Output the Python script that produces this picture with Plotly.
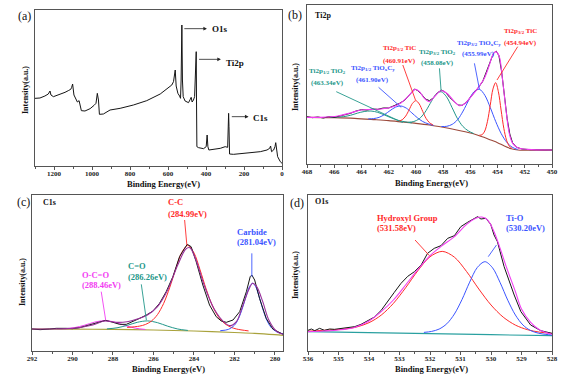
import plotly.graph_objects as go

FONT = "Liberation Serif"
AX = "#555555"
RED = "#ff2a2a"
BLUE = "#3b55ff"
TEAL = "#22978a"
MAG = "#f23cf2"
PURPLE = "#98309a"
BLACK = "#151515"

# ---------------- (a) survey spectrum ----------------
SURVEY_BE = [1300, 1274, 1248, 1230, 1221, 1216, 1203, 1177, 1142, 1125,
             1112, 1107, 1102, 1095, 1084, 1077, 1068, 1063, 1056, 1037,
             1010, 989, 979, 972, 966, 961, 940, 905, 852, 782,
             712, 641, 606, 580, 571, 566, 562, 557, 548, 539,
             534, 531, 527, 524, 520, 510, 492, 483, 478, 473,
             466, 460, 457, 453, 451.5, 450, 448, 439, 413, 399,
             394, 390, 385, 325, 299, 286, 283, 281, 279, 276,
             255, 185, 114, 79, 65, 60, 55, 44, 37, 33,
             30, 23, 9, 0]
SURVEY_I = [205, 206, 212, 218, 227, 215, 210, 215, 223, 228,
            232, 238, 248, 215, 200, 194, 198, 182, 168, 167,
            174, 184, 190, 220, 200, 157, 158, 170, 175, 185,
            198, 218, 232, 245, 255, 275, 290, 242, 220, 212,
            205, 260, 425, 260, 210, 197, 192, 202, 208, 194,
            200, 210, 275, 340, 345, 200, 60, 57, 54, 60,
            95, 60, 50, 55, 60, 58, 120, 160, 120, 38,
            37, 42, 45, 50, 55, 62, 45, 50, 60, 72,
            55, 30, 15, 10]

# ---------------- (b) Ti2p ----------------
DATA_B_X = [468.0, 467.6, 467.2, 466.8, 466.4, 466.0, 465.6, 465.2, 464.8, 464.4,
            464.0, 463.6, 463.2, 462.8, 462.4, 462.0, 461.6, 461.2, 460.8, 460.4,
            460.1, 459.9, 459.6, 459.3, 459.0, 458.7, 458.4, 458.1, 457.8, 457.5,
            457.2, 456.9, 456.6, 456.3, 456.0, 455.7, 455.4, 455.1, 454.8, 454.5,
            454.3, 454.1, 453.9, 453.7, 453.5, 453.3, 453.1, 452.9, 452.6, 452.2,
            451.6, 451.0, 450.5, 450.0]
DATA_B_Y = [150, 147, 149, 146, 150, 148, 152, 156, 160, 167,
            171, 170, 173, 172, 176, 176, 183, 190, 200, 218,
            233, 229, 218, 203, 198, 207, 222, 230, 222, 207,
            195, 185, 184, 193, 208, 222, 238, 255, 285, 318,
            340, 347, 333, 285, 215, 145, 98, 72, 58, 53,
            51, 50, 51, 50]
ENV_B_X = [468, 466.95, 465.73, 464.75, 464.01, 463.28, 462.55, 461.81, 461.08, 460.59,
           460.03, 459.74, 459.37, 459.0, 458.64, 458.15, 457.66, 457.17, 456.8, 456.44,
           455.95, 455.46, 454.97, 454.6, 454.36, 454.12, 453.87, 453.63, 453.38, 453.14,
           452.89, 452.52, 451.79, 450.0]
ENV_B_Y = [148, 148, 152, 162, 170, 172, 173, 178, 192, 210,
           232, 225, 205, 195, 210, 228, 218, 195, 183, 188,
           210, 235, 265, 305, 335, 345, 330, 260, 170, 100,
           70, 57, 52, 50]
BG_B_X = [468, 466, 464.5, 463, 462, 461, 460, 459, 458, 457, 456, 455.5, 455, 454.5, 454, 453.5, 453, 452.5, 450]
BG_B_Y = [148, 147, 145, 141, 138, 134, 130, 125, 118, 110, 101, 95, 88, 80, 72, 62, 54, 50, 50]
TIO2_12_X = [466.3, 465.8, 465.3, 464.8, 464.3, 463.8, 463.3, 462.8, 462.3, 461.8, 461.3, 460.8, 460.3]
TIO2_12_Y = [147.5, 148.6, 150.2, 154.2, 160.5, 165.4, 167.0, 162.9, 155.0, 146.2, 139.0, 134.6, 131.5]
TIOC_12_X = [463.5, 463.1, 462.7, 462.3, 461.9, 461.5, 461.1, 460.7, 460.3, 459.9, 459.5, 459.1, 458.7]
TIOC_12_Y = [143.4, 144.3, 148.0, 156.5, 168.1, 178.5, 182.0, 175.5, 161.5, 147.0, 135.5, 128.5, 123.9]
TIC_12_X = [461.25, 461.0, 460.75, 460.5, 460.25, 460.0, 459.75, 459.5, 459.25, 459.0, 458.75]
TIC_12_Y = [136.9, 140.9, 151.7, 170.4, 190.0, 198.0, 188.0, 165.9, 144.7, 131.9, 125.4]
TIO2_32_X = [460.55, 460.15, 459.75, 459.35, 458.95, 458.55, 458.15, 457.75, 457.35, 456.95, 456.55, 456.15, 455.75]
TIO2_32_Y = [133.3, 135.4, 143.8, 162.1, 189.4, 215.7, 225.0, 209.7, 177.9, 144.6, 120.8, 107.4, 99.3]
TIOC_32_X = [458.13, 457.73, 457.33, 456.93, 456.53, 456.13, 455.73, 455.33, 454.93, 454.53, 454.13, 453.73, 453.33, 452.93, 452.53]
TIOC_32_Y = [120.5, 121.1, 127.0, 141.1, 166.9, 198.3, 224.8, 232.0, 213.8, 176.8, 134.9, 99.1, 73.5, 58.6, 51.5]
TIC_32_X = [455.34, 455.14, 454.94, 454.74, 454.54, 454.34, 454.14, 453.94, 453.74, 453.54, 453.34, 453.14, 452.94]
TIC_32_Y = [94.3, 95.8, 106.9, 136.0, 183.9, 232.7, 252.0, 225.2, 169.9, 115.0, 79.4, 61.8, 54.8]

# ---------------- (c) C1s ----------------
DATA_C_X = [292.0, 291.6, 291.13, 290.8, 290.3, 290.0, 289.65, 289.15, 288.66, 288.36,
            288.0, 287.67, 287.34, 287.01, 286.68, 286.35, 286.02, 285.7, 285.37, 285.04,
            284.71, 284.46, 284.33, 284.14, 283.89, 283.56, 283.23, 282.9, 282.65, 282.4,
            282.07, 281.74, 281.41, 281.22, 281.14, 281.0, 280.76, 280.43, 280.1, 279.6]
DATA_C_Y = [68, 66, 68, 70, 70, 69, 72, 80, 90, 94,
            88, 82, 82, 90, 100, 110, 122, 145, 180, 225,
            285, 310, 322, 315, 270, 200, 140, 105, 92, 88,
            95, 120, 180, 225, 230, 215, 160, 100, 68, 52]
ENV_C_X = [292, 290, 289, 288.4, 287.8, 287.3, 286.8, 286.3, 285.8, 285.3,
           284.8, 284.4, 284.2, 283.9, 283.5, 283.0, 282.5, 282.2, 281.9, 281.6,
           281.3, 281.1, 280.9, 280.6, 280.3, 279.9, 279.6]
ENV_C_Y = [68, 70, 80, 92, 88, 90, 98, 110, 135, 185,
           260, 308, 312, 275, 200, 128, 88, 78, 90, 135,
           185, 205, 195, 150, 95, 60, 52]
BG_C_X = [292, 290, 288, 286, 284, 282, 281, 280, 279.6]
BG_C_Y = [68, 67.5, 67, 65, 62, 57.5, 55, 51, 49]
OCO_X = [290.4, 289.9, 289.4, 288.9, 288.4, 287.9, 287.4, 286.9, 286.4]
OCO_Y = [68.8, 72.1, 79.4, 88.7, 93.1, 88.4, 78.5, 70.5, 66.6]
CO_X = [288.3, 287.8, 287.3, 286.8, 286.3, 285.8, 285.3, 284.8, 284.3]
CO_Y = [68.3, 71.6, 78.8, 88.1, 92.3, 87.0, 76.5, 68.0, 63.7]
CC_X = [287.3, 286.7, 286.4, 286.1, 285.8, 285.5, 285.2, 284.9, 284.6, 284.3,
        284.0, 283.7, 283.4, 283.1, 282.8, 282.5, 282.2, 281.9, 281.3]
CC_Y = [72.7, 76.5, 81.5, 91.7, 111.3, 144.2, 191.8, 248.2, 297.9, 318.5,
        296.6, 245.8, 188.4, 139.6, 105.6, 85.1, 74.1, 68.0, 62.2]
CARB_X = [282.7, 282.3, 282.0, 281.8, 281.6, 281.4, 281.25, 281.1, 280.95, 280.8, 280.6, 280.4, 280.2, 279.9, 279.6]
CARB_Y = [62.9, 66.8, 79.3, 99.0, 131.5, 171.0, 195.6, 205.2, 194.8, 169.2, 128.5, 94.6, 73.6, 59.1, 53.6]

# ---------------- (d) O1s ----------------
DATA_D_X = [536.0, 535.89, 535.78, 535.62, 535.46, 535.29, 535.13, 534.91, 534.69, 534.47,
            534.26, 534.04, 533.82, 533.6, 533.38, 533.17, 532.95, 532.73, 532.51, 532.29,
            532.08, 531.86, 531.64, 531.42, 531.2, 530.99, 530.77, 530.55, 530.44, 530.33,
            530.17, 530.01, 529.9, 529.79, 529.57, 529.24, 529.02, 528.7, 528.37, 528.0]
DATA_D_Y = [64, 68, 63, 70, 64, 68, 67, 70, 72, 75,
            82, 93, 104, 124, 150, 178, 205, 226, 240, 260,
            295, 310, 318, 340, 348, 375, 388, 400, 405, 398,
            400, 382, 350, 330, 255, 170, 120, 80, 63, 55]
ENV_D_X = [536.0, 535.5, 535.0, 534.5, 534.0, 533.6, 533.2, 532.8, 532.4, 532.0,
           531.6, 531.2, 530.8, 530.5, 530.3, 530.1, 529.9, 529.7, 529.5, 529.2,
           529.0, 528.7, 528.4, 528.0]
ENV_D_Y = [60, 62, 65, 72, 92, 120, 155, 200, 246, 288,
           318, 345, 382, 400, 404, 394, 360, 310, 255, 180,
           128, 88, 65, 52]
BG_D_X = [536, 534, 532, 530, 528]
BG_D_Y = [60, 57, 54, 51, 48]
OH_X = [536.0, 535.2, 534.8, 534.4, 534.0, 533.6, 533.2, 532.8, 532.4, 532.0, 531.6,
        531.2, 530.8, 530.4, 530.0, 529.6, 529.2, 528.8, 528.4, 528.0]
OH_Y = [61.5, 65.5, 68.1, 74.2, 86.9, 109.6, 144.9, 191.6, 242.7, 284.7, 300.9,
        283.5, 240.3, 188.0, 140.1, 103.6, 79.7, 65.8, 58.5, 54.7]
TIO_X = [532.2, 531.95, 531.7, 531.45, 531.2, 530.95, 530.7, 530.45, 530.2,
         529.95, 529.7, 529.45, 529.2, 528.95, 528.7, 528.45, 528.2, 528.0]
TIO_Y = [57.8, 60.7, 67.8, 83.6, 112.9, 156.5, 208.5, 252.5, 270.0,
         251.7, 207.0, 154.3, 109.9, 79.8, 63.3, 55.5, 51.8, 50.0]

W, H = 576, 377
fig = go.Figure()


def add_line(x, y, color, n, width=1.0, shape="spline"):
    fig.add_trace(go.Scatter(
        x=x, y=y, mode="lines",
        line=dict(color=color, width=width, shape=shape, smoothing=0.9),
        xaxis="x" if n == 1 else f"x{n}", yaxis="y" if n == 1 else f"y{n}",
        showlegend=False, hoverinfo="skip"))


# (a)
add_line(SURVEY_BE, SURVEY_I, BLACK, 1, 1.0, "linear")
# (b)
add_line(BG_B_X, BG_B_Y, "#9c4a3c", 2, 1.1)
add_line(TIO2_12_X, TIO2_12_Y, TEAL, 2)
add_line(TIOC_12_X, TIOC_12_Y, BLUE, 2)
add_line(TIC_12_X, TIC_12_Y, RED, 2)
add_line(TIO2_32_X, TIO2_32_Y, TEAL, 2)
add_line(TIOC_32_X, TIOC_32_Y, BLUE, 2)
add_line(TIC_32_X, TIC_32_Y, RED, 2)
add_line(DATA_B_X, DATA_B_Y, BLACK, 2, 1.0, "linear")
add_line(ENV_B_X, ENV_B_Y, MAG, 2, 1.1)
# (c)
add_line(BG_C_X, BG_C_Y, "#a9a23c", 3, 1.1)
add_line(OCO_X, OCO_Y, MAG, 3)
add_line(CO_X, CO_Y, TEAL, 3)
add_line(CC_X, CC_Y, RED, 3)
add_line(CARB_X, CARB_Y, BLUE, 3)
add_line(DATA_C_X, DATA_C_Y, BLACK, 3, 1.0, "linear")
add_line(ENV_C_X, ENV_C_Y, PURPLE, 3, 1.1)
# (d)
add_line(BG_D_X, BG_D_Y, "#2aa0a0", 4, 1.1)
add_line(OH_X, OH_Y, RED, 4)
add_line(TIO_X, TIO_Y, BLUE, 4)
add_line(DATA_D_X, DATA_D_Y, BLACK, 4, 1.0, "linear")
add_line(ENV_D_X, ENV_D_Y, MAG, 4, 1.1)


def xaxis(domain, rng, dtick, minor, anchor):
    return dict(domain=domain, range=rng, dtick=dtick, tick0=0, anchor=anchor,
                automargin=False,
                showline=True, mirror=True, linecolor=AX, linewidth=1,
                ticks="outside", ticklen=3, tickwidth=1, tickcolor=AX,
                ticklabelstandoff=-2,
                minor=dict(ticks="outside", ticklen=2, dtick=minor, tickcolor=AX),
                showgrid=False, zeroline=False,
                tickfont=dict(family=FONT, size=7, color="#222", weight="bold"))


def yaxis(domain, rng, anchor):
    return dict(domain=domain, range=rng, anchor=anchor, automargin=False,
                showline=True, mirror=True, linecolor=AX, linewidth=1,
                ticks="", showticklabels=False, showgrid=False, zeroline=False)


# plot boxes in window pixels: (left, right, top, bottom)
BOX = {1: (35, 282, 10, 165.5), 2: (307, 552, 5, 164),
       3: (32, 283, 195, 351), 4: (308, 552, 195, 351)}


def dom(n):
    l, r, t, b = BOX[n]
    return [l / W, r / W], [1 - b / H, 1 - t / H]


fig.update_layout(
    width=W, height=H,
    margin=dict(l=0, r=0, t=0, b=0),
    paper_bgcolor="white", plot_bgcolor="white",
    hovermode=False,
    xaxis=xaxis(dom(1)[0], [1300, 0], 200, 100, "y"),
    yaxis=yaxis(dom(1)[1], [3.5, 470], "x"),
    xaxis2=xaxis(dom(2)[0], [468, 450], 2, 1, "y2"),
    yaxis2=yaxis(dom(2)[1], [8, 485], "x2"),
    xaxis3=xaxis(dom(3)[0], [292, 279.6], 2, 1, "y3"),
    yaxis3=yaxis(dom(3)[1], [2, 470], "x3"),
    xaxis4=xaxis(dom(4)[0], [536, 528], 1, 0.5, "y4"),
    yaxis4=yaxis(dom(4)[1], [2, 470], "x4"),
)

ann = []


def paper_text(px, py, s, size, color="#111", weight="normal", angle=0):
    ann.append(dict(xref="paper", yref="paper", x=px / W, y=1 - py / H, text=s,
                    showarrow=False, xanchor="center", yanchor="middle", textangle=angle,
                    font=dict(family=FONT, size=size, color=color, weight=weight)))


def text(n, x, y, s, color, size, anchor="center", weight="bold"):
    ann.append(dict(xref="x" if n == 1 else f"x{n}", yref="y" if n == 1 else f"y{n}",
                    x=x, y=y, text=s, showarrow=False, xanchor=anchor, yanchor="middle",
                    font=dict(family=FONT, size=size, color=color, weight=weight)))


# panel letters
for lab, px, py in [("(a)", 24, 16), ("(b)", 295, 15), ("(c)", 23, 202), ("(d)", 297, 203)]:
    paper_text(px, py, lab, 12)

# axis titles
for px, py in [(163, 184), (431, 183), (168, 369), (431, 369)]:
    paper_text(px, py, "Binding Energy(eV)", 8.5, weight="bold")
for px, py in [(25, 90), (295, 87), (22, 282), (295, 275)]:
    paper_text(px, py, "Intensity(a.u.)", 8, weight="bold", angle=-90)

# (a) arrows and labels
for head, tail, y, lab, tx, ty in [(395, 522, 414, "O1s", 381, 414),
                                   (321.5, 444.5, 322, "Ti2p", 304, 312),
                                   (176, 272, 150, "C1s", 163, 146)]:
    ann.append(dict(xref="x", yref="y", axref="x", ayref="y", x=head, y=y, ax=tail, ay=y,
                    text="", showarrow=True, arrowhead=2, arrowsize=0.9, arrowwidth=0.8,
                    arrowcolor="#222"))
    text(1, tx, ty, lab, "#111", 9, "left")

# (b) labels
text(2, 467.56, 455, "Ti2p", "#111", 8, "left")
B_LABELS = [("Ti2p<sub>3/2</sub> TiC", "(454.94eV)", 452.3, 407, 371, RED),
            ("Ti2p<sub>3/2</sub> TiO<sub>x</sub>C<sub>y</sub>", "(455.99eV)", 455.38, 371, 338, BLUE),
            ("Ti2p<sub>3/2</sub> TiO<sub>2</sub>", "(458.08eV)", 458.39, 344, 311, TEAL),
            ("Ti2p<sub>1/2</sub> TiC", "(460.91eV)", 461.18, 356, 317, RED),
            ("Ti2p<sub>1/2</sub> TiO<sub>x</sub>C<sub>y</sub>", "(461.90eV)", 463.16, 296, 260, BLUE),
            ("Ti2p<sub>1/2</sub> TiO<sub>2</sub>", "(463.34eV)", 466.46, 287, 251, TEAL)]
for l1, l2, x, y1, y2, c in B_LABELS:
    text(2, x, y1, l1, c, 7)
    text(2, x, y2, l2, c, 7)

# (c) labels
text(3, 291.57, 448, "C1s", "#111", 8, "left")
C_LABELS = [("C-C", "(284.99eV)", 285.37, 450, 412, RED),
            ("Carbide", "(281.04eV)", 281.98, 360, 328, BLUE),
            ("C=O", "(286.26eV)", 287.37, 257, 225, TEAL),
            ("O-C=O", "(288.46eV)", 289.65, 230, 200, MAG)]
for l1, l2, x, y1, y2, c in C_LABELS:
    text(3, x, y1, l1, c, 8.5, "left")
    text(3, x, y2, l2, c, 8.5, "left")

# (d) labels
text(4, 535.84, 450, "O1s", "#111", 8, "left")
D_LABELS = [("Hydroxyl Group", "(531.58eV)", 533.8, 400, 370, RED),
            ("Ti-O", "(530.20eV)", 529.59, 400, 370, BLUE)]
for l1, l2, x, y1, y2, c in D_LABELS:
    text(4, x, y1, l1, c, 8.5, "left")
    text(4, x, y2, l2, c, 8.5, "left")

# leader lines
LEADERS = [(2, 452.52, 360, 454.04, 260, RED), (2, 455.7, 310, 455.33, 232, BLUE),
           (2, 458.27, 295, 458.15, 228, TEAL), (2, 460.96, 305, 460.03, 200, RED),
           (2, 462.74, 238, 461.08, 178, BLUE), (2, 465.85, 225, 460.96, 132, TEAL),
           (3, 284.46, 395, 284.35, 320, RED), (3, 281.14, 295, 281.14, 225, BLUE),
           (3, 286.6, 202, 286.35, 95, TEAL), (3, 288.58, 180, 288.36, 95, MAG),
           (4, 532.49, 335, 532.02, 288, RED), (4, 529.82, 320, 530.09, 285, BLUE)]
shapes = []
for n, x0, y0, x1, y1, c in LEADERS:
    shapes.append(dict(type="line", xref=f"x{n}", yref=f"y{n}", x0=x0, y0=y0, x1=x1, y1=y1,
                       line=dict(color=c, width=0.9)))

fig.update_layout(annotations=ann, shapes=shapes)
# remove the default 8px page margin so the figure fills the window exactly
fig.write_html("out.html", config={"displayModeBar": False, "staticPlot": True},
               post_script="document.body.style.margin='0px';")
